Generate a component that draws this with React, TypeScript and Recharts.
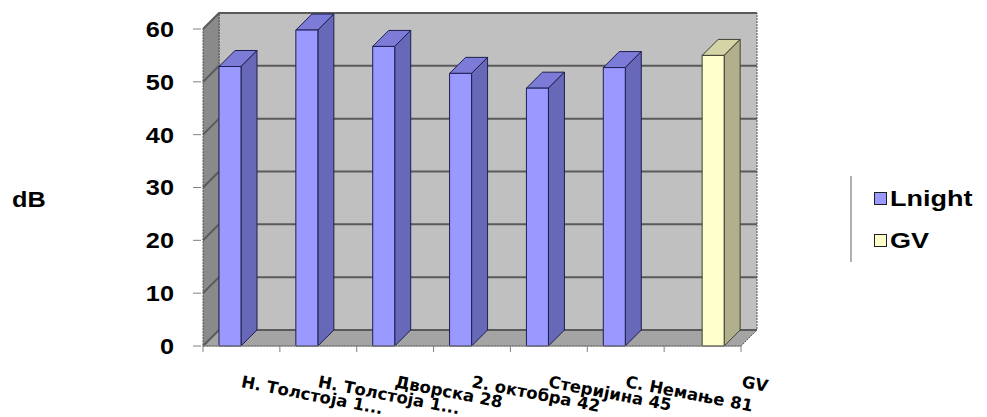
import { BarChart, Bar, XAxis, YAxis, CartesianGrid, ReferenceArea, Legend } from 'recharts';

const categories = ['Н. Толстоја 1...', 'Н. Толстоја 1...', 'Дворска 28', '2. октобра 42', 'Стеријина 45', 'С. Немање 81', 'GV'];
const lnightValues = [52.9, 59.8, 56.7, 51.6, 48.8, 52.7, null];
const gvValues = [null, null, null, null, null, null, 55];
const yTicks = [0, 10, 20, 30, 40, 50, 60];

const rows = categories.map((name, i) => ({ name, lnight: lnightValues[i], gv: gvValues[i] }));

const DEPTH = 16;
const LEGEND_W = 137;

const palette = {
  lnight: { front: '#9999FF', side: '#6868B8', top: '#7C7CD8', edge: '#1E1E50' },
  gv: { front: '#FFFFCC', side: '#B0B08C', top: '#D4D4A6', edge: '#404030' },
};

function makeBox(colors: typeof palette.lnight) {
  return (props: any) => {
    const { x, y, width, height } = props;
    if (!height || height <= 0) return null;
    const d = DEPTH;
    return (
      <g stroke={colors.edge} strokeWidth={1} strokeLinejoin="round">
        <polygon points={`${x},${y} ${x + d},${y - d} ${x + width + d},${y - d} ${x + width},${y}`} fill={colors.top} />
        <polygon points={`${x + width},${y} ${x + width + d},${y - d} ${x + width + d},${y + height - d} ${x + width},${y + height}`} fill={colors.side} />
        <rect x={x} y={y} width={width} height={height} fill={colors.front} />
      </g>
    );
  };
}

// back wall, left wall and floor of the 3D box
function Walls(props: any) {
  const { x, y, width, height } = props;
  const d = DEPTH;
  const b = y + height;
  return (
    <g>
      <rect x={x + d} y={y - d} width={width} height={height} fill="#C0C0C0" stroke="#505050" strokeDasharray="2 1" />
      <polygon points={`${x},${y} ${x + d},${y - d} ${x + d},${b - d} ${x},${b}`} fill="#8A8A8A" stroke="#505050" strokeDasharray="2 1" />
      <polygon points={`${x},${b} ${x + d},${b - d} ${x + width + d},${b - d} ${x + width},${b}`} fill="#A4A4A4" stroke="#606060" strokeDasharray="2 1" />
    </g>
  );
}

function GridLine(props: any) {
  const { x1, x2, y1 } = props;
  const d = DEPTH;
  return (
    <polyline
      key={props.key}
      points={`${x1},${y1} ${x1 + d},${y1 - d} ${x2 + d},${y1 - d}`}
      fill="none"
      stroke="#5A5A5A"
      strokeWidth={2}
    />
  );
}

function XTick(props: any) {
  const { x, y, payload } = props;
  const half = payload.offset ?? 38.5;
  const label = String(payload.value);
  const isLast = props.index === categories.length - 1;
  const startX = label.length < 4 ? x + half : x - 1;
  const ty = y + 41;
  return (
    <g>
      <line x1={x - half} y1={y} x2={x - half} y2={y + 6} stroke="#808080" />
      {isLast && <line x1={x + half} y1={y} x2={x + half} y2={y + 6} stroke="#808080" />}
      <text
        x={startX}
        y={ty}
        transform={`rotate(11 ${startX} ${ty})`}
        fontFamily="DejaVu Sans"
        fontWeight="bold"
        fontSize={16.5}
        fill="#000"
      >
        {label}
      </text>
    </g>
  );
}

function YTick(props: any) {
  const { x, y, payload } = props;
  const tx = x - 29;
  return (
    <g>
      <line x1={x - 10} y1={y} x2={x - 2} y2={y} stroke="#808080" />
      <text
        x={tx}
        y={y}
        dy="0.36em"
        textAnchor="end"
        transform={`translate(${tx} 0) scale(1.15 1) translate(${-tx} 0)`}
        fontFamily="Liberation Sans"
        fontWeight="bold"
        fontSize={22}
        fill="#000"
      >
        {payload.value}
      </text>
    </g>
  );
}

function YLabel(props: any) {
  const { viewBox } = props;
  const cy = viewBox.y + viewBox.height / 2 + 12;
  return (
    <text
      x={12}
      y={cy}
      dy="0.36em"
      transform="translate(12 0) scale(1.15 1) translate(-12 0)"
      fontFamily="Liberation Sans"
      fontWeight="bold"
      fontSize={22}
      fill="#000"
    >
      dB
    </text>
  );
}

function LegendBox() {
  const items = [
    { name: 'Lnight', color: palette.lnight.front },
    { name: 'GV', color: palette.gv.front },
  ];
  return (
    <div style={{ borderLeft: '2px solid #B0B0B0', paddingLeft: 22, height: 86, display: 'flex', flexDirection: 'column', justifyContent: 'center', gap: 19 }}>
      {items.map((it) => (
        <div key={it.name} style={{ display: 'flex', alignItems: 'center', fontFamily: 'Liberation Sans', fontWeight: 'bold', fontSize: 22.5, lineHeight: '23px' }}>
          <span style={{ width: 11, height: 11, background: it.color, border: '1px solid #202020', marginRight: 3, flex: 'none' }} />
          <span style={{ display: 'inline-block', transform: 'scaleX(1.2)', transformOrigin: 'left center' }}>{it.name}</span>
        </div>
      ))}
    </div>
  );
}

export default function App() {
  return (
    <div style={{ position: 'absolute', left: 0, top: 0, width: 987, height: 417, background: '#fff' }}>
      <BarChart width={987} height={417} data={rows} margin={{ top: 29, right: 246 - LEGEND_W, bottom: 11, left: 0 }} barGap={0}>
        <ReferenceArea y1={0} y2={60} shape={Walls} fill="#C0C0C0" zIndex={-200} />
        <CartesianGrid vertical={false} horizontal={GridLine} zIndex={-100} />
        <XAxis dataKey="name" height={60} interval={0} axisLine={{ stroke: '#808080' }} tickLine={false} tickSize={0} tickMargin={0} tick={XTick} />
        <YAxis
          type="number"
          width={203}
          domain={[0, 60]}
          ticks={yTicks}
          axisLine={false}
          tickLine={false}
          tickSize={0}
          tickMargin={0}
          tick={YTick}
          label={<YLabel />}
        />
        <Bar dataKey="lnight" barSize={22} fill={palette.lnight.front} shape={makeBox(palette.lnight)} isAnimationActive={false} />
        <Bar dataKey="gv" barSize={22} fill={palette.gv.front} shape={makeBox(palette.gv)} isAnimationActive={false} />
        <Legend layout="vertical" align="right" verticalAlign="middle" content={LegendBox} wrapperStyle={{ left: 850, top: 176, width: LEGEND_W }} />
      </BarChart>
    </div>
  );
}
